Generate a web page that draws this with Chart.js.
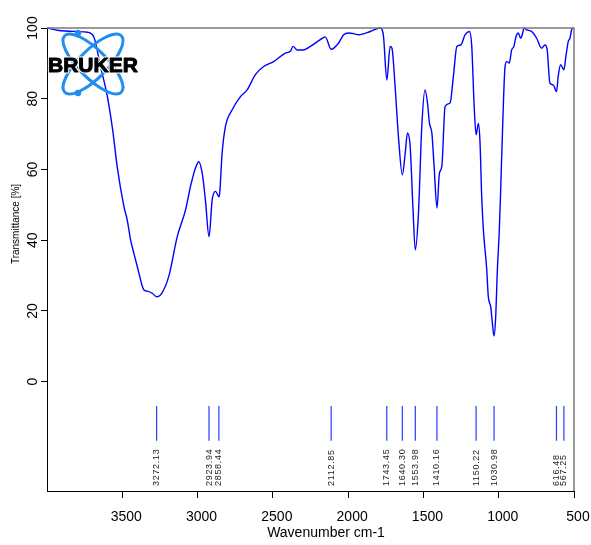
<html>
<head>
  <title>IR Spectrum</title>
  <script src="https://cdn.jsdelivr.net/npm/chart.js"></script>
  <style>
    body { margin: 0; background: #fff; }
  </style>
</head>
<body>
  <canvas id="irChart" width="591" height="545"></canvas>

  <script>
    // spectrum, high to low wavenumber
    const wavenumber = [4000, 3922, 3796, 3730, 3690, 3644, 3599, 3564, 3533, 3489, 3467, 3445, 3423, 3400, 3367, 3356, 3334, 3301, 3272, 3235, 3190, 3135, 3080, 3047, 3036, 3014, 2992, 2969, 2948, 2924, 2903, 2881, 2858, 2853, 2837, 2815, 2770, 2715, 2671, 2616, 2561, 2495, 2417, 2384, 2366, 2339, 2296, 2251, 2185, 2152, 2113, 2064, 2030, 1997, 1964, 1931, 1853, 1787, 1776, 1765, 1743, 1721, 1709, 1688, 1666, 1640, 1621, 1606, 1588, 1570, 1554, 1533, 1511, 1489, 1473, 1460, 1444, 1429, 1410, 1394, 1378, 1356, 1323, 1301, 1278, 1252, 1223, 1195, 1179, 1164, 1150, 1135, 1124, 1113, 1102, 1080, 1069, 1053, 1042, 1031, 1020, 1009, 996, 987, 976, 958, 947, 930, 914, 899, 885, 870, 854, 841, 832, 814, 781, 748, 715, 693, 678, 660, 638, 616, 605, 589, 567, 554, 538, 527, 516, 505];
    const transmittance = [100, 99.3, 99.0, 98.8, 97.6, 89.0, 80.6, 71.2, 60.5, 49.5, 45.7, 40.1, 36.3, 32.5, 27.0, 25.9, 25.6, 25.0, 24.0, 25.2, 30.0, 41.0, 48.6, 55.2, 57.1, 60.4, 62.2, 58.9, 51.4, 41.0, 51.4, 53.8, 52.3, 53.3, 64.6, 72.1, 76.9, 80.6, 82.5, 86.8, 89.1, 90.5, 92.9, 93.4, 94.8, 93.8, 93.8, 94.8, 96.7, 97.5, 94.0, 95.7, 98.1, 98.6, 98.4, 98.1, 99.0, 100, 99.7, 97.6, 85.3, 94.8, 94.3, 83.4, 69.3, 58.5, 64.6, 70.3, 66.5, 49.5, 37.3, 47.6, 72.1, 82.5, 78.8, 73.1, 70.3, 60.8, 49.1, 58.9, 60.8, 77.8, 78.8, 86.3, 94.8, 95.2, 98.1, 99.0, 94.8, 78.8, 69.8, 73.0, 67.5, 52.3, 43.0, 32.0, 24.0, 21.2, 16.5, 12.9, 18.4, 31.6, 42.9, 54.2, 69.3, 89.1, 90.5, 90.1, 93.8, 94.8, 97.6, 98.6, 97.1, 98.6, 100, 99.5, 99.0, 97.1, 94.3, 95.2, 93.8, 84.4, 83.9, 82.0, 86.3, 89.6, 88.2, 91.9, 96.2, 97.1, 99.5, 100];

    const peaks = [3272.13, 2923.94, 2858.44, 2112.85, 1743.45, 1640.30, 1553.98, 1410.16, 1150.22, 1030.98, 616.48, 567.25];
    const peakLabels = ["3272.13", "2923.94", "2858.44", "2112.85", "1743.45", "1640.30", "1553.98", "1410.16", "1150.22", "1030.98", "616.48", "567.25"];

    const xTicks = [3500, 3000, 2500, 2000, 1500, 1000, 500];
    const yTicks = [0, 20, 40, 60, 80, 100];

    const FONT = '"Liberation Sans", Arial, sans-serif';

    const spectrum = wavenumber.map((w, i) => ({ x: w, y: transmittance[i] }));
    const peakMarks = peaks.flatMap(p => [{ x: p, y: -6.9 }, { x: p, y: -16.7 }, { x: p, y: null }]);

    function drawLogo(ctx) {
      ctx.save();
      ctx.strokeStyle = '#1e8ff0';
      ctx.fillStyle = '#1e8ff0';
      ctx.lineWidth = 3;
      [Math.PI / 4, -Math.PI / 4].forEach(a => {
        ctx.beginPath();
        ctx.ellipse(93, 64, 40, 14, a, 0, Math.PI * 2);
        ctx.stroke();
      });
      ctx.beginPath(); ctx.arc(78, 33, 3.2, 0, Math.PI * 2); ctx.fill();
      ctx.beginPath(); ctx.arc(78, 93, 3.2, 0, Math.PI * 2); ctx.fill();
      ctx.font = 'bold 21px ' + FONT;
      ctx.textAlign = 'left';
      ctx.textBaseline = 'alphabetic';
      ctx.lineJoin = 'round';
      ctx.lineWidth = 3;
      ctx.strokeStyle = '#fff';
      ctx.strokeText('BRUKER', 48, 72);
      ctx.lineWidth = 1;
      ctx.strokeStyle = '#000';
      ctx.strokeText('BRUKER', 48, 72);
      ctx.fillStyle = '#000';
      ctx.fillText('BRUKER', 48, 72);
      ctx.restore();
    }

    const extras = {
      id: 'extras',
      afterDatasetsDraw(chart) {
        const ctx = chart.ctx;
        const xs = chart.scales.x;
        const area = chart.chartArea;

        drawLogo(ctx);

        // peak labels, rotated
        ctx.save();
        ctx.fillStyle = '#222';
        ctx.font = '9px ' + FONT;
        ctx.letterSpacing = '0.7px';
        ctx.textAlign = 'left';
        ctx.textBaseline = 'middle';
        peaks.forEach((p, i) => {
          ctx.save();
          ctx.translate(xs.getPixelForValue(p), 486);
          ctx.rotate(-Math.PI / 2);
          ctx.fillText(peakLabels[i], 0, 0);
          ctx.restore();
        });
        ctx.restore();

        // top and right frame
        ctx.save();
        ctx.strokeStyle = '#7a7a7a';
        ctx.lineWidth = 1.5;
        ctx.beginPath();
        ctx.moveTo(area.left, area.top);
        ctx.lineTo(area.right, area.top);
        ctx.lineTo(area.right, area.bottom);
        ctx.stroke();
        ctx.restore();
      },
      afterDraw(chart) {
        const ctx = chart.ctx;
        const ys = chart.scales.y;
        ctx.save();
        ctx.fillStyle = '#000';

        // y tick labels, vertical
        ctx.font = '14px ' + FONT;
        ctx.textAlign = 'center';
        ctx.textBaseline = 'alphabetic';
        yTicks.forEach(v => {
          ctx.save();
          ctx.translate(37, ys.getPixelForValue(v));
          ctx.rotate(-Math.PI / 2);
          ctx.fillText(String(v), 0, 0);
          ctx.restore();
        });

        // axis titles
        ctx.font = '10px ' + FONT;
        ctx.save();
        ctx.translate(19, 224);
        ctx.rotate(-Math.PI / 2);
        ctx.fillText('Transmittance [%]', 0, 0);
        ctx.restore();

        ctx.font = '14px ' + FONT;
        ctx.fillText('Wavenumber cm-1', 326, 537);
        ctx.restore();
      }
    };

    new Chart(document.getElementById('irChart'), {
      type: 'line',
      data: {
        datasets: [
          {
            data: spectrum,
            borderColor: '#0000ff',
            borderWidth: 1.4,
            pointRadius: 0,
            cubicInterpolationMode: 'monotone',
            fill: false,
            clip: 2
          },
          {
            data: peakMarks,
            borderColor: '#2a3cff',
            borderWidth: 1.2,
            pointRadius: 0,
            spanGaps: false,
            fill: false
          }
        ]
      },
      options: {
        responsive: false,
        animation: false,
        devicePixelRatio: 1,
        layout: { padding: { top: 28, right: 17, left: 0, bottom: 0 } },
        plugins: { legend: { display: false }, tooltip: { enabled: false } },
        scales: {
          x: {
            type: 'linear',
            reverse: true,
            min: 500,
            max: 4000,
            afterBuildTicks: s => { s.ticks = xTicks.map(v => ({ value: v })); },
            afterFit: s => { s.height = 54; s.paddingLeft = 0; s.paddingRight = 0; },
            grid: { drawOnChartArea: false, tickLength: 7, color: '#000', tickColor: '#000' },
            border: { color: '#000', width: 1 },
            ticks: {
              color: '#000',
              font: { family: FONT, size: 14 },
              padding: 11,
              labelOffset: 4,
              maxRotation: 0,
              callback: v => String(v)
            }
          },
          y: {
            min: -30.9,
            max: 100,
            afterBuildTicks: s => { s.ticks = yTicks.map(v => ({ value: v })); },
            afterFit: s => { s.width = 47; s.paddingTop = 0; s.paddingBottom = 0; },
            grid: { drawOnChartArea: false, tickLength: 6, color: '#000', tickColor: '#000' },
            border: { color: '#000', width: 1 },
            ticks: { display: false }
          }
        }
      },
      plugins: [extras]
    });
  </script>
</body>
</html>
